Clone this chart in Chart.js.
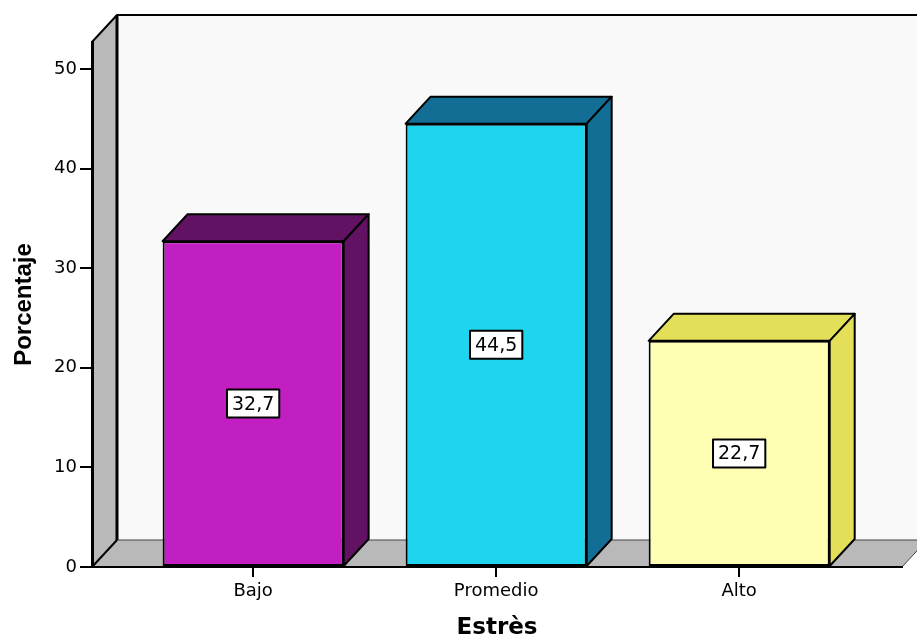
<!DOCTYPE html>
<html>
<head>
<meta charset="utf-8">
<title>Estrès</title>
<script src="https://cdn.jsdelivr.net/npm/chart.js@4/dist/chart.umd.min.js"></script>
<style>
  html, body { margin: 0; padding: 0; background: #fff; }
  canvas { display: block; }
</style>
</head>
<body>
<canvas id="chart" width="917" height="640"></canvas>
<script>
const categories = ['Bajo', 'Promedio', 'Alto'];
const percentages = [32.7, 44.5, 22.7];
const valueLabels = ['32,7', '44,5', '22,7'];
const frontColors = ['#c21fc2', '#1ed5ef', '#ffffb4'];
const sideColors = ['#621262', '#136e95', '#e4df59'];

const depth = { dx: 25, dy: -27 };

function poly(ctx, pts, fill) {
    ctx.beginPath();
    ctx.moveTo(pts[0][0], pts[0][1]);
    pts.slice(1).forEach(p => ctx.lineTo(p[0], p[1]));
    ctx.closePath();
    ctx.fillStyle = fill;
    ctx.fill();
}

function line(ctx, pts, color, w) {
    ctx.beginPath();
    ctx.moveTo(pts[0][0], pts[0][1]);
    pts.slice(1).forEach(p => ctx.lineTo(p[0], p[1]));
    ctx.strokeStyle = color;
    ctx.lineWidth = w;
    ctx.stroke();
}

// back wall, left wall and floor, drawn before the axes
const walls3d = {
    id: 'walls3d',
    beforeDraw(chart) {
        const { ctx, chartArea: a, width } = chart;
        const bx = a.left + depth.dx, by = a.top + depth.dy, fy = a.bottom + depth.dy;
        ctx.save();
        ctx.fillStyle = '#f9f9f9';
        ctx.fillRect(bx, by, width - bx, fy - by);
        poly(ctx, [[a.left, a.top], [bx, by], [bx, fy], [a.left, a.bottom]], '#b9b9b9');
        poly(ctx, [[a.left, a.bottom], [bx, fy], [a.right + depth.dx, fy], [a.right, a.bottom]], '#b9b9b9');
        line(ctx, [[bx, fy], [a.right + depth.dx, fy]], '#444', 1);
        line(ctx, [[a.right, a.bottom], [a.right + depth.dx, fy]], '#444', 1);
        line(ctx, [[a.left, a.top], [bx, by], [width, by]], '#000', 2);
        line(ctx, [[bx, by], [bx, fy]], '#000', 3);
        line(ctx, [[bx, fy], [a.left, a.bottom]], '#000', 2);
        ctx.restore();
    }
};

// top and side faces of the bars + value boxes
const bars3d = {
    id: 'bars3d',
    afterDatasetsDraw(chart) {
        const { ctx } = chart;
        ctx.save();
        ctx.lineJoin = 'round';
        chart.getDatasetMeta(0).data.forEach((bar, i) => {
            const { x, y, base, width } = bar.getProps(['x', 'y', 'base', 'width'], true);
            const l = x - width / 2, r = x + width / 2;
            const top = [[l, y], [l + depth.dx, y + depth.dy], [r + depth.dx, y + depth.dy], [r, y]];
            const side = [[r, y], [r + depth.dx, y + depth.dy], [r + depth.dx, base + depth.dy], [r, base]];
            [top, side].forEach(f => {
                poly(ctx, f, sideColors[i]);
                ctx.strokeStyle = '#000';
                ctx.lineWidth = 2;
                ctx.stroke();
            });

            ctx.font = '19px "DejaVu Sans"';
            const tw = ctx.measureText(valueLabels[i]).width;
            const bw = tw + 10, bh = 28;
            const cy = (y + base) / 2;
            ctx.fillStyle = '#fff';
            ctx.fillRect(x - bw / 2, cy - bh / 2, bw, bh);
            ctx.strokeStyle = '#000';
            ctx.lineWidth = 2;
            ctx.strokeRect(x - bw / 2, cy - bh / 2, bw, bh);
            ctx.fillStyle = '#000';
            ctx.textAlign = 'center';
            ctx.textBaseline = 'middle';
            ctx.fillText(valueLabels[i], x, cy + 1);
        });
        ctx.restore();
    }
};

new Chart(document.getElementById('chart'), {
    type: 'bar',
    data: {
        datasets: [{
            data: percentages.map((v, i) => ({ x: i, y: v })),
            backgroundColor: frontColors,
            borderColor: '#000',
            borderWidth: 2,
            borderSkipped: false,
            categoryPercentage: 1,
            barPercentage: 0.745
        }]
    },
    options: {
        responsive: false,
        animation: false,
        layout: { padding: { top: 42, right: 15, left: 0, bottom: 0 } },
        plugins: {
            legend: { display: false },
            tooltip: { enabled: false }
        },
        scales: {
            x: {
                type: 'linear',
                offset: false,
                min: -0.663,
                max: 2.67,
                afterBuildTicks: s => { s.ticks = categories.map((c, i) => ({ value: i })); },
                afterFit: s => { s.height = 73; },
                ticks: {
                    callback: v => categories[v],
                    color: '#000',
                    padding: 4,
                    font: { family: 'DejaVu Sans', size: 18 }
                },
                grid: { offset: false, drawOnChartArea: false, color: '#000', lineWidth: 2, tickLength: 10 },
                border: { color: '#000', width: 2 },
                title: {
                    display: true,
                    text: 'Estrès',
                    color: '#000',
                    padding: { top: 0, bottom: 0 },
                    font: { family: 'DejaVu Sans', size: 23, weight: 'bold', lineHeight: 1 }
                }
            },
            y: {
                min: 0,
                max: 52.7,
                afterFit: s => { s.width = 92; },
                ticks: {
                    stepSize: 10,
                    includeBounds: false,
                    color: '#000',
                    padding: 3,
                    font: { family: 'DejaVu Sans', size: 18 }
                },
                grid: { drawOnChartArea: false, color: '#000', lineWidth: 2, tickLength: 12 },
                border: { color: '#000', width: 3 },
                title: {
                    display: true,
                    text: 'Porcentaje',
                    color: '#000',
                    padding: { top: 10, bottom: 0 },
                    font: { family: 'Liberation Sans', size: 24, weight: 'bold' }
                }
            }
        }
    },
    plugins: [walls3d, bars3d]
});
</script>
</body>
</html>
